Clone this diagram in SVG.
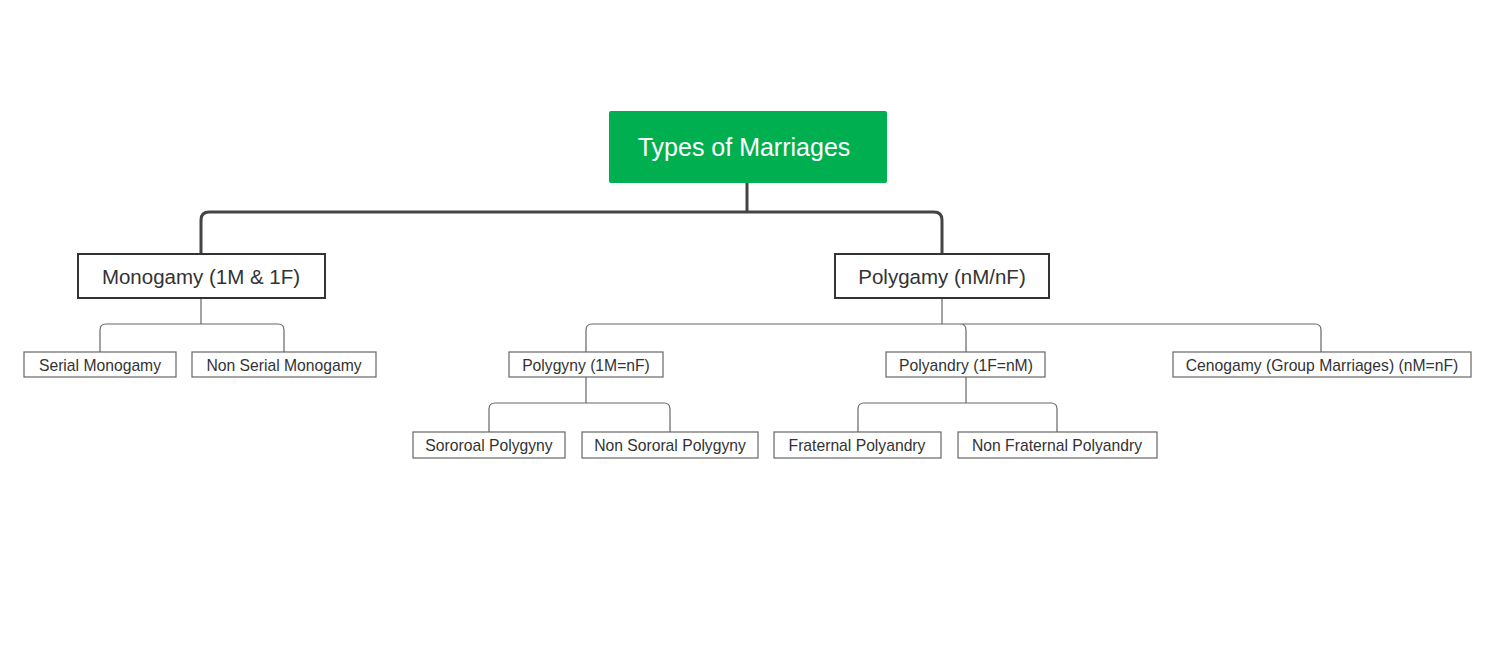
<svg xmlns="http://www.w3.org/2000/svg" width="1500" height="655" viewBox="0 0 1500 655">
<style>
text{font-family:"Liberation Sans",Arial,sans-serif;text-anchor:middle;fill:#333}
.root rect{fill:#00b050}
.root text{fill:#fff;font-size:25px}
.l1 rect{fill:#fff;stroke:#333;stroke-width:2}
.l1 text{font-size:20.5px}
.l2 rect{fill:#fff;stroke:#666;stroke-width:1.2}
.l2 text{font-size:15.7px}
.thick{fill:none;stroke:#444;stroke-width:3}
.thin{fill:none;stroke:#666;stroke-width:1.2}
</style>
<rect width="1500" height="655" fill="#fff"/>
<g id="connectors">
<path class="thick" d="M747 183V212M201 254V220Q201 212 209 212H934Q942 212 942 220V254"/>
<path class="thin" d="M201 298V324M100 352V330Q100 324 106 324H278Q284 324 284 330V352"/>
<path class="thin" d="M942 298V324M586 352V330Q586 324 592 324H1315Q1321 324 1321 330V352M960 324Q966 324 966 330V352"/>
<path class="thin" d="M586 377V403M489 432V409Q489 403 495 403H664Q670 403 670 409V432"/>
<path class="thin" d="M966 377V403M858 432V409Q858 403 864 403H1051Q1057 403 1057 409V432"/>
</g>
<g id="root" class="root"><rect x="609" y="111" width="278" height="72" rx="2"/><text x="744" y="156">Types of Marriages</text></g>
<g id="monogamy" class="l1"><rect x="78" y="254" width="247" height="44"/><text x="201" y="284">Monogamy (1M &amp; 1F)</text></g>
<g id="polygamy" class="l1"><rect x="835" y="254" width="214" height="44"/><text x="942" y="284">Polygamy (nM/nF)</text></g>
<g id="serial" class="l2"><rect x="24" y="352" width="152" height="25"/><text x="100" y="371">Serial Monogamy</text></g>
<g id="nonserial" class="l2"><rect x="192" y="352" width="184" height="25"/><text x="284" y="371">Non Serial Monogamy</text></g>
<g id="polygyny" class="l2"><rect x="509" y="352" width="154" height="25"/><text x="586" y="371">Polygyny (1M=nF)</text></g>
<g id="polyandry" class="l2"><rect x="886" y="352" width="159" height="25"/><text x="966" y="371">Polyandry (1F=nM)</text></g>
<g id="cenogamy" class="l2"><rect x="1173" y="352" width="298" height="25"/><text x="1322" y="371">Cenogamy (Group Marriages) (nM=nF)</text></g>
<g id="sororoal" class="l2"><rect x="413" y="432" width="152" height="26"/><text x="489" y="451">Sororoal Polygyny</text></g>
<g id="nonsororal" class="l2"><rect x="582" y="432" width="176" height="26"/><text x="670" y="451">Non Sororal Polygyny</text></g>
<g id="fraternal" class="l2"><rect x="774" y="432" width="167" height="26"/><text x="857" y="451">Fraternal Polyandry</text></g>
<g id="nonfraternal" class="l2"><rect x="958" y="432" width="199" height="26"/><text x="1057" y="451">Non Fraternal Polyandry</text></g>
</svg>
